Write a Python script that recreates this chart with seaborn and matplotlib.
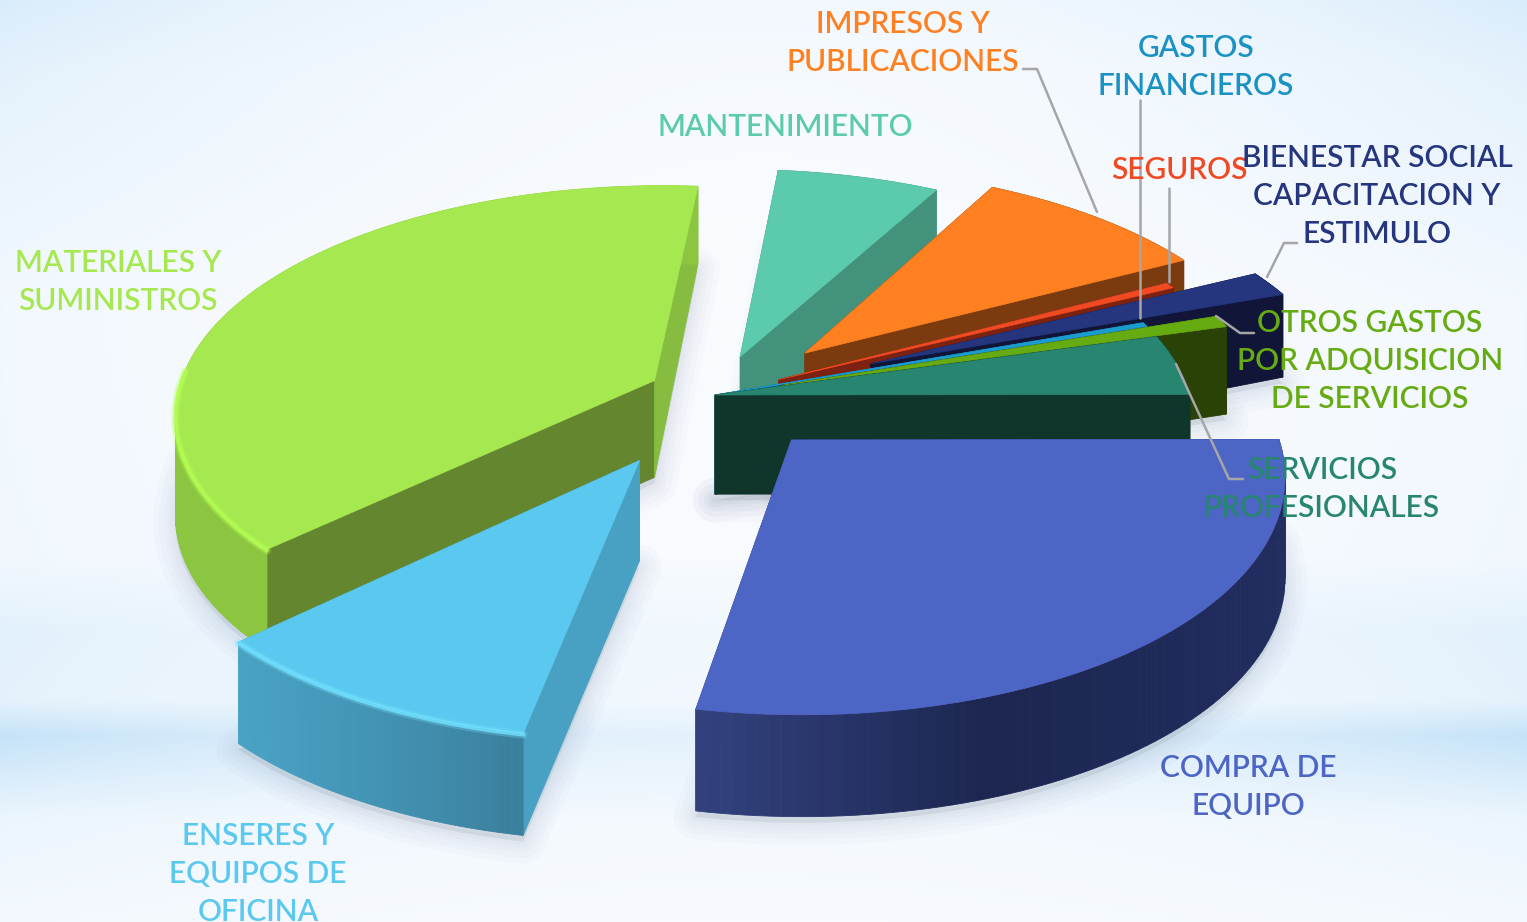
import numpy as np
import matplotlib
matplotlib.use('Agg')
import matplotlib.pyplot as plt
import seaborn as sns

# clockwise from the top of the pie
labels = ['MANTENIMIENTO', 'IMPRESOS Y\nPUBLICACIONES', 'SEGUROS',
          'BIENESTAR SOCIAL\nCAPACITACION Y\nESTIMULO', 'GASTOS\nFINANCIEROS',
          'OTROS GASTOS\nPOR ADQUISICION\nDE SERVICIOS', 'SERVICIOS\nPROFESIONALES',
          'COMPRA DE\nEQUIPO', 'ENSERES Y\nEQUIPOS DE\nOFICINA', 'MATERIALES Y\nSUMINISTROS']
values = [6.5, 9.3, 0.4, 1.8, 0.3, 0.8, 4.2, 28.1, 10.1, 38.2]
explode = [85, 128, 72, 172, 0, 70, 0, 117, 149, 68]
slice_size = [1, 1, 1, 1, 1, 1.02, 1, 1, 0.995, 1.005]

top_colors = ['#5CCAAC', '#FE8020', '#F04A23', '#25357E', '#1B9CD0',
              '#67AB12', '#288570', '#4D65C5', '#5BC8EF', '#A6E84F']
first_side = ['#43937C', '#7B3B0E', '#7D2210', '#111537', '#0D5A7A',
              '#2B4207', '#10352B', '#1E2A58', '#48A0C2', '#64862F']
last_side = ['#43937C', '#7B3B0E', '#7D2210', '#111537', '#0D5A7A',
             '#2B4207', '#10352B', '#33427F', '#48A0C2', '#86BC40']
rim_left = ['#43937C', '#7B3B0E', '#7D2210', '#111537', '#0D5A7A',
            '#2B4207', '#10352B', '#33427F', '#4AA3C4', '#8CC540']
rim_mid = ['#43937C', '#7B3B0E', '#7D2210', '#111537', '#0D5A7A',
           '#2B4207', '#10352B', '#1C2650', '#4293B4', '#8CC540']
rim_right = ['#43937C', '#7B3B0E', '#7D2210', '#111537', '#0D5A7A',
             '#2B4207', '#10352B', '#222D60', '#3A7F9C', '#8CC540']
bevel = [None, None, None, None, None, None, None, None, '#72E2FF', '#B4FF55']

label_x = [785, 903, 1179, 1377, 1196, 1370, 1322, 1248, 258, 118]
label_y = [127, 43, 170, 196, 67, 361, 489, 787, 874, 282]
label_colors = ['#5CCAAC', '#FE8020', '#F04A23', '#25357E', '#1B92C4',
                '#67AB12', '#288570', '#4D65C5', '#5BC8EF', '#A6E84F']

leaders = [[(1023, 69), (1037, 69), (1097, 212)],
           [(1140, 100), (1140, 318)],
           [(1169, 188), (1169, 282)],
           [(1297, 243), (1284, 243), (1267, 277)],
           [(1254, 333), (1240, 333), (1216, 316)],
           [(1243, 479), (1229, 479), (1176, 364)]]

draw_order = [9, 0, 1, 2, 3, 4, 5, 6, 8, 7]
start_angle = 84
cx, cy = 715, 395
radius = 475
squash = 0.485
persp = 0.14


def project(X, Y):
    s = 1 - persp * np.asarray(Y) / radius
    return cx + np.asarray(X) * s, cy - squash * np.asarray(Y) * s


def drop(y):
    return y + np.interp(y, [188, 300, 400, 740], [78, 83, 100, 102])


def background():
    yy, xx = np.mgrid[0:922, 0:1527]
    t = np.interp(yy, [0, 70, 300, 560, 630, 700, 735, 775, 820, 922],
                  [0.22, 0.12, 0.02, 0.08, 0.26, 0.24, 0.62, 0.4, 0.16, 0.08])
    edge = ((xx - 763) / 763) ** 2
    t = t * (0.55 + 0.75 * edge) + 0.22 * edge * (1 - yy / 922) ** 2
    t = np.clip(t, 0, 1)[..., None]
    white = np.array(matplotlib.colors.to_rgb('#FAFCFF'))
    blue = np.array(matplotlib.colors.to_rgb('#B9DDF7'))
    return white * (1 - t) + blue * t


sns.set_theme(style='white')
plt.rcParams['font.family'] = ['Lato', 'DejaVu Sans']

fig, ax = plt.subplots(figsize=(15.27, 9.22), dpi=100)
fig.subplots_adjust(0, 0, 1, 1)
ax.imshow(background(), extent=(0, 1527, 922, 0), aspect='auto', zorder=0)

angles = start_angle - np.cumsum([0] + values) * 3.6
slices = []
for i in range(len(values)):
    a0, a1 = np.radians(angles[i]), np.radians(angles[i + 1])
    mid = (a0 + a1) / 2
    ox, oy = explode[i] * np.cos(mid), explode[i] * np.sin(mid)
    th = np.linspace(a0, a1, 80)
    r = radius * slice_size[i]
    rx, ry = project(ox + r * np.cos(th), oy + r * np.sin(th))
    ax_, ay_ = project(ox, oy)
    slices.append((float(ax_), float(ay_), rx, ry, th))

# soft shadow below every slice
for ax_, ay_, rx, ry, th in slices:
    px = np.r_[ax_, rx]
    py = drop(np.r_[ay_, ry]) + 6
    for w in [32, 24, 16, 10, 5]:
        ax.fill(px, py, color='#5A6A80', alpha=0.025, lw=w, joinstyle='round', zorder=1)

z = 2
for i in draw_order:
    ax_, ay_, rx, ry, th = slices[i]
    # straight faces
    for end, col in [(0, first_side[i]), (-1, last_side[i])]:
        fx = [ax_, rx[end], rx[end], ax_]
        fy = [ay_, ry[end], drop(ry[end]), drop(ay_)]
        ax.fill(fx, fy, color=col, lw=0.6, zorder=z)
    # curved face, shaded along the arc
    shades = sns.blend_palette([rim_left[i], rim_mid[i], rim_right[i]], 80)
    for k in range(len(rx) - 1):
        t = (rx[k] - rx.min()) / max(rx.max() - rx.min(), 1)
        col = shades[int(t * 79)]
        qx = [rx[k], rx[k + 1], rx[k + 1], rx[k]]
        qy = [ry[k], ry[k + 1], drop(ry[k + 1]), drop(ry[k])]
        ax.fill(qx, qy, color=col, lw=0.6, zorder=z)
    ax.fill(np.r_[ax_, rx], np.r_[ay_, ry], color=top_colors[i], lw=0.5, zorder=z)
    if bevel[i] is not None:
        front = np.sin(th) < 0.05
        ax.plot(rx[front], ry[front] + 1, color=bevel[i], lw=6, alpha=0.3,
                solid_capstyle='round', zorder=z)
        ax.plot(rx[front], ry[front] + 1, color=bevel[i], lw=3, alpha=0.8,
                solid_capstyle='round', zorder=z)
    z += 1

for pts in leaders:
    xs, ys = zip(*pts)
    ax.plot(xs, ys, color='#A6A6A6', lw=1.8, zorder=z)

for name, x, y, col in zip(labels, label_x, label_y, label_colors):
    ax.text(x, y, name, color=col, ha='center', va='center', fontsize=21.5,
            fontweight='semibold', linespacing=1.42, zorder=z + 1)

ax.set_xlim(0, 1527)
ax.set_ylim(922, 0)
ax.set_xticks([])
ax.set_yticks([])
sns.despine(ax=ax, left=True, bottom=True)

plt.savefig('out.png', dpi=100)
